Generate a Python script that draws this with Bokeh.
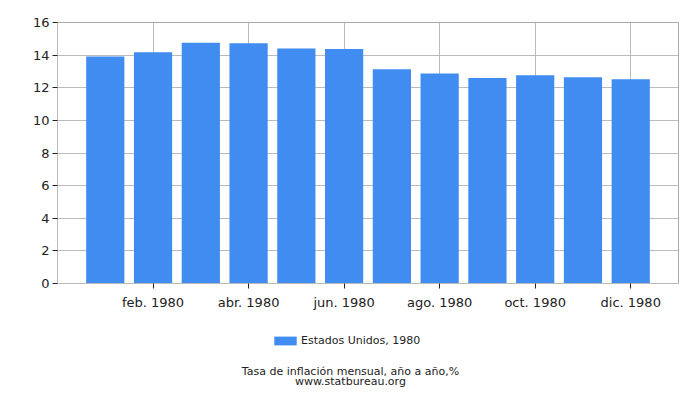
from bokeh.plotting import figure
from bokeh.layouts import column
from bokeh.models import ColumnDataSource, FixedTicker, Range1d
from bokeh.core.properties import value
from bokeh.embed import file_html
from bokeh.resources import INLINE

# data (US monthly inflation, year over year, 1980)
months = [1, 2, 3, 4, 5, 6, 7, 8, 9, 10, 11, 12]
rates = [13.91, 14.18, 14.76, 14.73, 14.41, 14.38, 13.13, 12.87, 12.60, 12.77, 12.65, 12.52]
tick_pos = [2, 4, 6, 8, 10, 12]
tick_labels = ["feb. 1980", "abr. 1980", "jun. 1980", "ago. 1980", "oct. 1980", "dic. 1980"]
series_name = "Estados Unidos, 1980"
footer_lines = ["Tasa de inflación mensual, año a año,%", "www.statbureau.org"]

FONT = "DejaVu Sans"
GRID = "#bbbbbb"
BAR = "#418cf0"

src = ColumnDataSource(data=dict(x=months, top=rates))

# main chart
p = figure(width=700, height=313, x_range=(0, 13), y_range=(0, 16),
           output_backend="svg", toolbar_location=None,
           min_border_left=57, min_border_top=22, min_border_right=22,
           min_border_bottom=30)

p.vbar(x="x", top="top", width=0.8, bottom=0, source=src,
       color=BAR, line_color=None)

p.outline_line_color = "#aaaaaa"

p.yaxis.ticker = FixedTicker(ticks=[0, 2, 4, 6, 8, 10, 12, 14, 16])
p.xaxis.ticker = FixedTicker(ticks=tick_pos)
p.xaxis.major_label_overrides = {t: l for t, l in zip(tick_pos, tick_labels)}
for ax in (p.xaxis, p.yaxis):
    ax.axis_line_color = GRID
    ax.major_tick_line_color = "#222222"
    ax.major_tick_out = 5
    ax.major_tick_in = 0
    ax.minor_tick_line_color = None
    ax.major_label_text_font = FONT
    ax.major_label_text_font_size = "13px"
    ax.major_label_text_color = "#222222"
p.xaxis.major_label_standoff = 6
p.yaxis.major_label_standoff = 3

p.xgrid.grid_line_color = GRID
p.ygrid.grid_line_color = GRID

# footer: legend and source texts (frame aligned with the chart frame,
# x range in page pixels)
f = figure(width=700, height=87, x_range=Range1d(57, 678), y_range=Range1d(87, 0),
           output_backend="svg", toolbar_location=None,
           min_border_left=57, min_border_right=22, min_border_top=0,
           min_border_bottom=0)
f.axis.visible = False
f.grid.visible = False
f.outline_line_color = None

proxy = f.vbar(x="x", top="top", width=0.8, source=src, color=BAR,
               line_color=None, legend_label=series_name)
proxy.visible = False
f.legend.location = (214, 53)
f.legend.border_line_color = None
f.legend.background_fill_alpha = 0
f.legend.inactive_fill_alpha = 0
f.legend.label_text_font = FONT
f.legend.label_text_font_size = "11px"
f.legend.label_text_color = "#222222"
f.legend.glyph_width = 28
f.legend.glyph_height = 11
f.legend.label_standoff = 2
f.legend.margin = 0
f.legend.padding = 0

f.text(x=[350, 350], y=[58, 68], text=footer_lines,
       text_align="center", text_baseline="middle",
       text_font=value(FONT), text_font_size="11px", text_color="#222222")

open("out.html", "w").write(file_html(column(p, f, spacing=0), INLINE))
